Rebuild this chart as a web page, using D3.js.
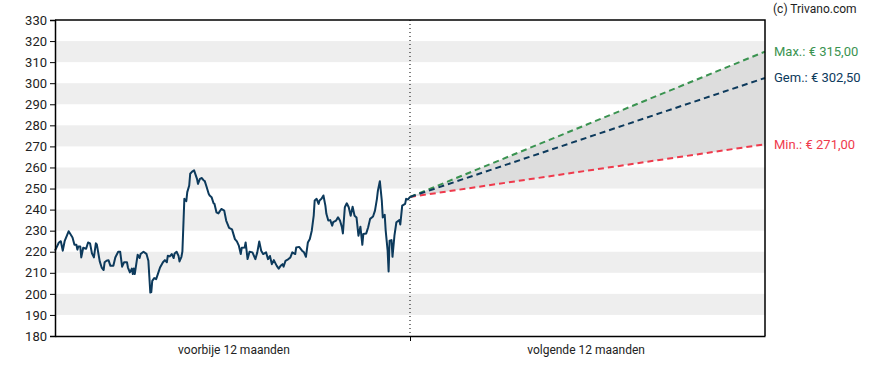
<!DOCTYPE html>
<html>
<head>
<meta charset="utf-8">
<script src="https://cdn.jsdelivr.net/npm/d3@7"></script>
<style>
  body { margin: 0; background: #fff; }
  text { font-family: Roboto, "Noto Sans", sans-serif; }
</style>
</head>
<body>
<script>
// Set up size
var width = 888;
var height = 370;
var margin = {top: 20, right: 123, bottom: 34, left: 55};

// Price history: [day since start, price]
var priceHistory = [
  [0,220.5],[4,224.4],[6,225],[8,220.5],[10,225.2],[14,229.7],[15,229],[18,226.8],[20,223.3],[22,223.3],
  [23,221],[24,222.5],[26,222.5],[27,217.3],[29,221.9],[32,221.4],[34,224.4],[36,224],[38,219.2],[40,217.3],
  [42,224],[43,223.5],[46,215.4],[48,212.5],[50,211.3],[51,215],[53,215.7],[55,216],[57,213.3],[60,213.3],
  [62,217.3],[65,220],[67,220],[69,212.9],[71,215],[74,215],[75,212.5],[77,210.2],[79,212],[80,209.4],
  [81,212],[82,209.4],[85,218.6],[87,217],[88,218.9],[91,220],[94,219],[96,215.7],[98,200.6],[99,200.8],
  [100,206.2],[102,207.5],[104,207],[106,209.7],[108,212.5],[111,215],[113,216],[115,215],[116,218.1],[118,217.8],
  [120,218.9],[122,217],[123,219.2],[125,220],[127,218],[128,215.4],[130,217.6],[131,220.2],[133,245.1],[135,244],
  [136,248.3],[138,251.4],[139,257],[141,258],[143,258.6],[146,254.6],[147,252.2],[149,254.6],[151,255],[153,253.8],
  [154,253.5],[156,250.6],[158,247.5],[159,246.7],[161,245.9],[163,243],[164,242.7],[166,238.7],[168,238.2],[171,240.3],
  [174,239.5],[176,234.8],[179,231.3],[182,230.6],[185,226],[187,224.9],[189,222.9],[191,218.9],[192,221.9],[195,222],
  [196,224.4],[198,216.5],[200,220],[203,219.7],[206,216.5],[208,219.7],[210,224.9],[212,220.5],[214,218.9],[217,219.7],
  [219,216.5],[221,218],[223,214.1],[225,216],[228,213.3],[230,212],[232,213.3],[234,214.1],[235,212.9],[237,215.7],
  [240,216.5],[242,217.3],[244,219.7],[247,218.9],[248,222],[251,222.3],[254,220.5],[256,219.7],[258,217.6],[260,224.4],
  [262,226],[264,230],[266,237.1],[267,244.3],[269,245.1],[271,242.7],[272,244.3],[274,245.1],[276,246.7],[278,241.9],
  [279,238],[281,234.8],[283,235],[285,232.4],[286,234],[289,234.8],[291,236.3],[293,234.8],[295,231.6],[296,228.7],
  [298,241.1],[300,243],[302,241.1],[304,237.1],[306,241.4],[308,237.1],[310,236.3],[312,227.6],[314,231.9],[316,223.3],
  [317,228.4],[320,228.7],[322,231.6],[324,235.6],[327,236.7],[329,239.5],[331,245.1],[332,249],[334,253.5],[336,244.3],
  [337,236.3],[339,237.5],[340,230],[342,220.5],[343,210.6],[344,225.2],[346,225.5],[347,217.6],[349,227.6],[351,234],
  [354,235],[355,232.9],[357,241.9],[360,242.7],[361,245.1],[363,244.8],[365,246]
];

// Forecast targets one year ahead
var lastPrice = 246;
var targetNames = ["Max.", "Gem.", "Min."];
var targetValues = [315, 302.5, 271];
var targetColors = ["#3a9350", "#0d3a5c", "#ef3a4c"];

var yTicks = d3.range(180, 331, 10);
var periodLabels = ["voorbije 12 maanden", "volgende 12 maanden"];

var x = d3.scaleLinear().domain([0, 730]).range([margin.left, width - margin.right]);
var y = d3.scaleLinear().domain([180, 330]).range([height - margin.bottom, margin.top]);

var svg = d3.select('body').append('svg')
  .attr('width', width)
  .attr('height', height);

// Alternating bands
svg.append('g').selectAll('rect')
  .data(yTicks.filter(function (d) { return d % 20 === 10 && d < 330; }))
  .enter().append('rect')
  .attr('x', x(0))
  .attr('width', x(730) - x(0))
  .attr('y', function (d) { return y(d + 10); })
  .attr('height', function (d) { return y(d) - y(d + 10); })
  .attr('fill', '#eeeeee');

// Forecast range fill
var fan = [[365, lastPrice, lastPrice], [730, targetValues[0], targetValues[2]]];
svg.append('path')
  .datum(fan)
  .attr('d', d3.area()
    .x(function (d) { return x(d[0]); })
    .y0(function (d) { return y(d[2]); })
    .y1(function (d) { return y(d[1]); }))
  .attr('fill', '#dddddd');

// Divider between past and future
svg.append('line')
  .attr('x1', x(365)).attr('x2', x(365))
  .attr('y1', y(330)).attr('y2', y(180))
  .attr('stroke', '#000')
  .attr('stroke-width', 1)
  .attr('stroke-dasharray', '1,3');

// Price line
svg.append('path')
  .datum(priceHistory)
  .attr('d', d3.line()
    .x(function (d) { return x(d[0]); })
    .y(function (d) { return y(d[1]); }))
  .attr('fill', 'none')
  .attr('stroke', '#0d3a5c')
  .attr('stroke-width', 2)
  .attr('stroke-linejoin', 'round');

// Forecast lines (min first so max/avg draw on top)
[2, 0, 1].forEach(function (i) {
  svg.append('line')
    .attr('x1', x(365)).attr('y1', y(lastPrice))
    .attr('x2', x(730)).attr('y2', y(targetValues[i]))
    .attr('stroke', targetColors[i])
    .attr('stroke-width', 2)
    .attr('stroke-dasharray', '6,4');
});

// Target labels
svg.append('g').selectAll('text')
  .data(targetValues)
  .enter().append('text')
  .attr('x', x(730) + 9)
  .attr('y', function (d) { return y(d); })
  .attr('dy', '0.35em')
  .attr('font-size', 13)
  .attr('fill', function (d, i) { return targetColors[i]; })
  .text(function (d, i) {
    return targetNames[i] + ': € ' + d.toFixed(2).replace('.', ',');
  });

// Left axis
svg.append('g')
  .attr('transform', 'translate(' + margin.left + ',0)')
  .call(d3.axisLeft(y).tickValues(yTicks).tickSize(5).tickPadding(3))
  .call(function (g) {
    g.selectAll('text').attr('font-size', 13).attr('fill', '#222').attr('font-family', 'Roboto, sans-serif');
    g.select('.domain').attr('stroke-width', 1.5);
  });

// Bottom axis
svg.append('g')
  .attr('transform', 'translate(0,' + y(180) + ')')
  .call(d3.axisBottom(x).tickValues([365]).tickSizeInner(5).tickSizeOuter(0).tickFormat(''))
  .call(function (g) { g.select('.domain').attr('stroke-width', 1.5); });

svg.append('g').selectAll('text')
  .data(periodLabels)
  .enter().append('text')
  .attr('x', function (d, i) { return x(184 + i * 362); })
  .attr('y', y(180) + 18)
  .attr('text-anchor', 'middle')
  .attr('font-size', 12)
  .attr('fill', '#222')
  .text(function (d) { return d; });

// Top and right frame
svg.append('path')
  .attr('d', 'M' + x(0) + ',' + y(330) + 'H' + x(730) + 'V' + y(180))
  .attr('fill', 'none')
  .attr('stroke', '#000')
  .attr('stroke-width', 1.5);

svg.append('text')
  .attr('x', 773)
  .attr('y', 13)
  .attr('font-size', 12)
  .attr('fill', '#222')
  .text('(c) Trivano.com');
</script>
</body>
</html>
